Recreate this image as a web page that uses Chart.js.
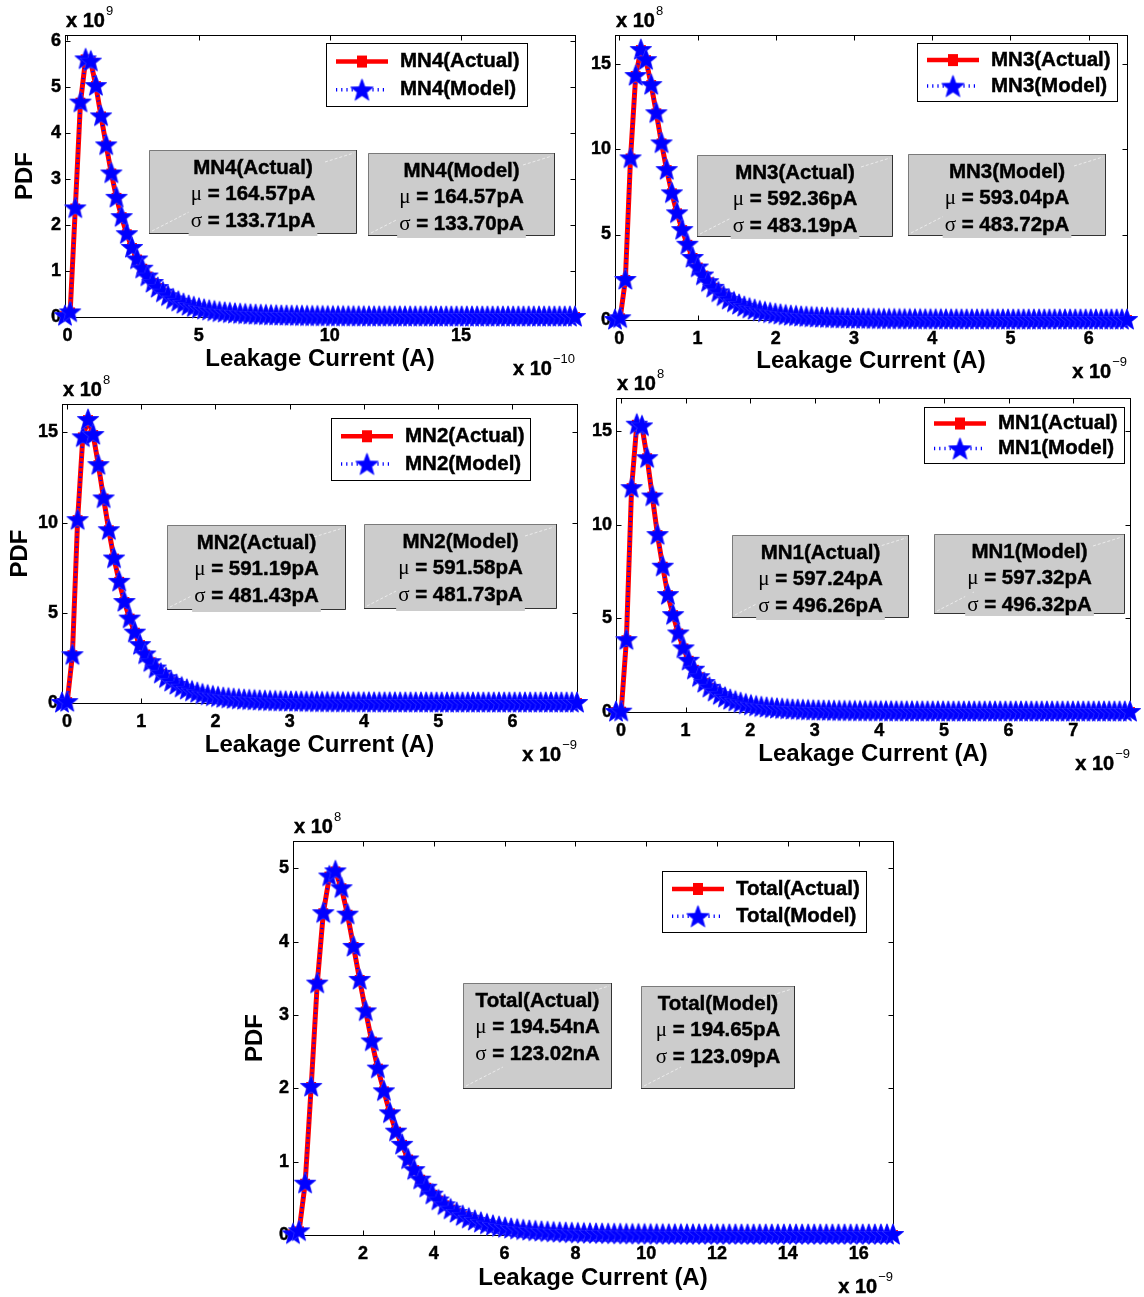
<!DOCTYPE html>
<html>
<head>
<meta charset="utf-8">
<script src="https://cdn.jsdelivr.net/npm/chart.js@4.4.1/dist/chart.umd.min.js"></script>
<style>
  html, body { margin: 0; padding: 0; background: #fff; }
  #fig { position: relative; width: 1144px; height: 1297px; overflow: hidden; background: #fff; }
  #fig canvas { position: absolute; }
</style>
</head>
<body>
<div id="fig"></div>
<script>
// ---------- data: kernel-density PDFs, 100 evenly spaced samples between the range ends ----------

// MN4: x in units of 1e-10 A, PDF in units of 1e9
const mn4Range = [-0.095, 19.35];
const mn4Pdf = [
  0.02, 0.10, 2.36, 4.66, 5.60, 5.55, 5.02, 4.36, 3.73, 3.12,
  2.59, 2.17, 1.80, 1.50, 1.25, 1.05, 0.88, 0.74, 0.63, 0.53,
  0.45, 0.38, 0.33, 0.28, 0.24, 0.21, 0.18, 0.155, 0.135, 0.117,
  0.100, 0.090, 0.078, 0.069, 0.061, 0.054, 0.047, 0.042, 0.037, 0.033,
  0.029, 0.026, 0.023, 0.021, 0.019, 0.017, 0.015, 0.013, 0.012, 0.011,
  0.010, 0.009, 0.008, 0.007, 0.007, 0.006, 0.006, 0.005, 0.005, 0.004,
  0.004, 0.004, 0.003, 0.003, 0.003, 0.003, 0.002, 0.002, 0.002, 0.002,
  0.002, 0.002, 0.001, 0.001, 0.001, 0.001, 0.001, 0.001, 0.001, 0.001,
  0.001, 0.001, 0.001, 0.001, 0, 0, 0, 0, 0, 0,
  0, 0, 0, 0, 0, 0, 0, 0, 0, 0
];
const mn4XTicks = [0, 5, 10, 15];
const mn4YTicks = [0, 1, 2, 3, 4, 5, 6];
const mn4YMax = 6.13;
const mn4Exp = ['9', '\u221210'];
const mn4Names = ['MN4(Actual)', 'MN4(Model)'];
const mn4Stats = [['MN4(Actual)', '164.57pA', '133.71pA'], ['MN4(Model)', '164.57pA', '133.70pA']];

// MN3: x in units of 1e-9 A, PDF in units of 1e8
const mn3Range = [-0.055, 6.49];
const mn3Pdf = [
  0.00, 0.10, 2.34, 9.45, 14.27, 15.79, 15.20, 13.74, 12.09, 10.33,
  8.77, 7.41, 6.24, 5.26, 4.40, 3.63, 3.07, 2.60, 2.21, 1.88,
  1.61, 1.38, 1.18, 1.02, 0.88, 0.76, 0.66, 0.58, 0.50, 0.44,
  0.385, 0.34, 0.30, 0.26, 0.23, 0.205, 0.18, 0.16, 0.145, 0.13,
  0.115, 0.103, 0.092, 0.083, 0.075, 0.067, 0.060, 0.054, 0.049, 0.044,
  0.040, 0.036, 0.032, 0.029, 0.026, 0.024, 0.021, 0.019, 0.017, 0.016,
  0.014, 0.013, 0.012, 0.011, 0.010, 0.009, 0.008, 0.007, 0.007, 0.006,
  0.006, 0.005, 0.005, 0.004, 0.004, 0.004, 0.003, 0.003, 0.003, 0.003,
  0.002, 0.002, 0.002, 0.002, 0.002, 0.001, 0.001, 0.001, 0.001, 0.001,
  0.001, 0.001, 0.001, 0.001, 0, 0, 0, 0, 0, 0
];
const mn3XTicks = [0, 1, 2, 3, 4, 5, 6];
const mn3YTicks = [0, 5, 10, 15];
const mn3YMax = 16.67;
const mn3Exp = ['8', '\u22129'];
const mn3Names = ['MN3(Actual)', 'MN3(Model)'];
const mn3Stats = [['MN3(Actual)', '592.36pA', '483.19pA'], ['MN3(Model)', '593.04pA', '483.72pA']];

// MN2: x in units of 1e-9 A, PDF in units of 1e8
const mn2Range = [-0.067, 6.87];
const mn2Pdf = [
  0.00, 0.05, 2.65, 10.14, 14.73, 15.69, 14.86, 13.19, 11.34, 9.58,
  8.01, 6.72, 5.60, 4.68, 3.90, 3.21, 2.69, 2.26, 1.91, 1.62,
  1.37, 1.17, 1.00, 0.85, 0.73, 0.63, 0.55, 0.47, 0.41, 0.36,
  0.31, 0.27, 0.24, 0.21, 0.185, 0.16, 0.145, 0.13, 0.115, 0.10,
  0.090, 0.080, 0.072, 0.064, 0.057, 0.051, 0.046, 0.041, 0.037, 0.033,
  0.030, 0.027, 0.024, 0.021, 0.019, 0.017, 0.015, 0.014, 0.012, 0.011,
  0.010, 0.009, 0.008, 0.007, 0.007, 0.006, 0.005, 0.005, 0.004, 0.004,
  0.004, 0.003, 0.003, 0.003, 0.002, 0.002, 0.002, 0.002, 0.002, 0.001,
  0.001, 0.001, 0.001, 0.001, 0.001, 0.001, 0, 0, 0, 0,
  0, 0, 0, 0, 0, 0, 0, 0, 0, 0
];
const mn2XTicks = [0, 1, 2, 3, 4, 5, 6];
const mn2YTicks = [0, 5, 10, 15];
const mn2YMax = 16.58;
const mn2Exp = ['8', '\u22129'];
const mn2Names = ['MN2(Actual)', 'MN2(Model)'];
const mn2Stats = [['MN2(Actual)', '591.19pA', '481.43pA'], ['MN2(Model)', '591.58pA', '481.73pA']];

// MN1: x in units of 1e-9 A, PDF in units of 1e8
const mn1Range = [-0.077, 7.88];
const mn1Pdf = [
  0.00, 0.02, 3.84, 11.97, 15.36, 15.27, 13.57, 11.52, 9.46, 7.77,
  6.25, 5.18, 4.20, 3.40, 2.74, 2.26, 1.86, 1.55, 1.29, 1.08,
  0.90, 0.76, 0.64, 0.55, 0.47, 0.40, 0.34, 0.29, 0.25, 0.22,
  0.19, 0.165, 0.144, 0.126, 0.11, 0.097, 0.085, 0.075, 0.066, 0.058,
  0.051, 0.045, 0.040, 0.035, 0.031, 0.028, 0.025, 0.022, 0.020, 0.018,
  0.016, 0.014, 0.012, 0.011, 0.010, 0.009, 0.008, 0.007, 0.006, 0.006,
  0.005, 0.005, 0.004, 0.004, 0.003, 0.003, 0.003, 0.002, 0.002, 0.002,
  0.002, 0.002, 0.001, 0.001, 0.001, 0.001, 0.001, 0.001, 0.001, 0.001,
  0.001, 0.001, 0.001, 0.001, 0, 0, 0, 0, 0, 0,
  0, 0, 0, 0, 0, 0, 0, 0, 0, 0
];
const mn1XTicks = [0, 1, 2, 3, 4, 5, 6, 7];
const mn1YTicks = [0, 5, 10, 15];
const mn1YMax = 16.79;
const mn1Exp = ['8', '\u22129'];
const mn1Names = ['MN1(Actual)', 'MN1(Model)'];
const mn1Stats = [['MN1(Actual)', '597.24pA', '496.26pA'], ['MN1(Model)', '597.32pA', '496.32pA']];

// Total: x in units of 1e-9 A, PDF in units of 1e8
const totalRange = [0.023, 16.97];
const totalPdf = [
  0.01, 0.05, 0.70, 2.02, 3.43, 4.39, 4.89, 4.96, 4.73, 4.37,
  3.93, 3.48, 3.05, 2.64, 2.27, 1.96, 1.66, 1.41, 1.23, 1.03,
  0.885, 0.755, 0.645, 0.55, 0.47, 0.405, 0.347, 0.30, 0.257, 0.222,
  0.192, 0.166, 0.143, 0.125, 0.108, 0.094, 0.082, 0.072, 0.063, 0.055,
  0.048, 0.042, 0.037, 0.033, 0.029, 0.026, 0.023, 0.020, 0.018, 0.016,
  0.014, 0.0125, 0.011, 0.0097, 0.0086, 0.0076, 0.0067, 0.006, 0.0053, 0.0047,
  0.0042, 0.0037, 0.0033, 0.0029, 0.0026, 0.0023, 0.002, 0.0018, 0.0016, 0.0014,
  0.0012, 0.0011, 0.001, 0.0009, 0.0008, 0.0007, 0.0006, 0.0005, 0.0005, 0.0004,
  0.0004, 0.0003, 0.0003, 0.0003, 0.0002, 0.0002, 0.0002, 0.0002, 0.0001, 0.0001,
  0.0001, 0.0001, 0.0001, 0.0001, 0, 0, 0, 0, 0, 0
];
const totalXTicks = [2, 4, 6, 8, 10, 12, 14, 16];
const totalYTicks = [0, 1, 2, 3, 4, 5];
const totalYMax = 5.375;
const totalExp = ['8', '\u22129'];
const totalNames = ['Total(Actual)', 'Total(Model)'];
const totalStats = [['Total(Actual)', '194.54nA', '123.02nA'], ['Total(Model)', '194.65pA', '123.09pA']];

const xAxisTitle = 'Leakage Current (A)';
const yAxisTitle = 'PDF';

// ---------- styling ----------
const FONT = '"Liberation Sans", Arial, Helvetica, sans-serif';
const SYM_FONT = '"Liberation Serif", "Times New Roman", serif';
const BOLD_TXT = 'bold 20.5px ' + FONT;
const SYM_TXT = '21px ' + SYM_FONT;
const BOX_GRAY = '#cccccc';
const TEXT_STROKE = 0.45;
Chart.defaults.font.family = FONT;
Chart.defaults.color = '#000';

// filled five-point star used as the model-series marker
function makeStar(R, ratio) {
  const c = document.createElement('canvas');
  const s = Math.ceil(2 * R + 4);
  c.width = s; c.height = s;
  const g = c.getContext('2d');
  const cx = s / 2, cy = s / 2;
  g.beginPath();
  for (let k = 0; k < 10; k++) {
    const r = k % 2 === 0 ? R : R * ratio;
    const ang = -Math.PI / 2 + k * Math.PI / 5;
    const px = cx + r * Math.cos(ang), py = cy + r * Math.sin(ang);
    if (k === 0) g.moveTo(px, py); else g.lineTo(px, py);
  }
  g.closePath();
  g.lineJoin = 'round';
  g.lineWidth = 1.2;
  g.strokeStyle = '#3c3cff';
  g.stroke();
  g.fillStyle = '#0000ff';
  g.fill();
  return c;
}
const starMarker = makeStar(11, 0.42);
const legendStar = makeStar(11.5, 0.42);

// axes box with inward ticks on all four sides
const framePlugin = {
  id: 'frameBox',
  beforeDatasetsDraw(chart) {
    const { ctx, chartArea: a } = chart;
    const xs = chart.scales.x, ys = chart.scales.y;
    const L = 5;
    ctx.save();
    ctx.strokeStyle = '#000';
    ctx.lineWidth = 1;
    const l = Math.round(a.left) + 0.5, t = Math.round(a.top) + 0.5;
    const r = Math.round(a.right) + 0.5, b = Math.round(a.bottom) + 0.5;
    ctx.strokeRect(l, t, r - l, b - t);
    ctx.beginPath();
    xs.ticks.forEach(tk => {
      const px = Math.round(xs.getPixelForValue(tk.value)) + 0.5;
      ctx.moveTo(px, b); ctx.lineTo(px, b - L);
      ctx.moveTo(px, t); ctx.lineTo(px, t + L);
    });
    ys.ticks.forEach(tk => {
      const py = Math.round(ys.getPixelForValue(tk.value)) + 0.5;
      ctx.moveTo(l, py); ctx.lineTo(l + L, py);
      ctx.moveTo(r, py); ctx.lineTo(r - L, py);
    });
    ctx.stroke();
    ctx.restore();
  }
};

function heavyText(ctx, t, x, y) {
  ctx.fillText(t, x, y);
  ctx.lineWidth = TEXT_STROKE;
  ctx.strokeStyle = ctx.fillStyle;
  ctx.strokeText(t, x, y);
}

function drawStats(ctx, b, s) {
  ctx.fillStyle = BOX_GRAY;
  ctx.fillRect(b.x, b.y, b.w, b.h);
  ctx.lineWidth = 1;
  // lighter top/left edges, darker right/bottom edges
  ctx.strokeStyle = '#7a7a7a';
  ctx.beginPath();
  ctx.moveTo(b.x + 0.5, b.y + b.h); ctx.lineTo(b.x + 0.5, b.y + 0.5); ctx.lineTo(b.x + b.w, b.y + 0.5);
  ctx.stroke();
  ctx.strokeStyle = '#333';
  ctx.beginPath();
  ctx.moveTo(b.x + b.w - 0.5, b.y); ctx.lineTo(b.x + b.w - 0.5, b.y + b.h - 0.5); ctx.lineTo(b.x, b.y + b.h - 0.5);
  ctx.stroke();
  // faint diagonal streaks at two corners
  ctx.save();
  ctx.strokeStyle = 'rgba(255,255,255,0.75)';
  ctx.lineWidth = 0.8;
  ctx.setLineDash([3, 2]);
  ctx.beginPath();
  ctx.moveTo(b.x + 3, b.y + b.h - 3); ctx.lineTo(b.x + 40, b.y + b.h - 22);
  ctx.moveTo(b.x + b.w - 32, b.y + 12); ctx.lineTo(b.x + b.w - 3, b.y + 3);
  ctx.stroke();
  ctx.restore();

  const cx = b.x + b.w / 2;
  const rows = [
    [[s[0], BOLD_TXT]],
    [['\u03bc', SYM_TXT], [' = ' + s[1], BOLD_TXT]],
    [['\u03c3', SYM_TXT], [' = ' + s[2], BOLD_TXT]]
  ];
  const offs = [18, 44.5, 71];
  ctx.textBaseline = 'middle';
  ctx.textAlign = 'left';
  rows.forEach((parts, r) => {
    const y = b.y + offs[r];
    let w = 0;
    parts.forEach(([t, f]) => { ctx.font = f; w += ctx.measureText(t).width; });
    let x = cx - w / 2;
    if (b.cover && r === 2) {
      ctx.fillStyle = BOX_GRAY;
      ctx.fillRect(x - 2, y - 12, w + 4, b.y + b.h + 2 - (y - 12));
    }
    ctx.fillStyle = '#000';
    parts.forEach(([t, f]) => {
      ctx.font = f;
      if (f === BOLD_TXT) heavyText(ctx, t, x, y); else ctx.fillText(t, x, y);
      x += ctx.measureText(t).width;
    });
  });
}

function drawLegend(ctx, L, ds) {
  ctx.fillStyle = '#fff';
  ctx.fillRect(L.x, L.y, L.w, L.h);
  ctx.strokeStyle = '#000';
  ctx.lineWidth = 1;
  ctx.strokeRect(L.x + 0.5, L.y + 0.5, L.w - 1, L.h - 1);
  const y1 = L.y + 0.29 * L.h, y2 = L.y + 0.73 * L.h;
  const x0 = L.x + 10, x1 = L.x + 62, xc = (x0 + x1) / 2;
  // actual: thick red line with square
  ctx.strokeStyle = ds[0].borderColor;
  ctx.lineWidth = 4.5;
  ctx.beginPath(); ctx.moveTo(x0, y1); ctx.lineTo(x1, y1); ctx.stroke();
  ctx.fillStyle = ds[0].borderColor;
  ctx.fillRect(xc - 5, y1 - 6, 10, 12);
  // model: dotted blue line with star
  ctx.strokeStyle = ds[1].borderColor;
  ctx.lineWidth = 3.5;
  ctx.setLineDash([1.2, 4]);
  ctx.beginPath(); ctx.moveTo(x0, y2); ctx.lineTo(x1, y2); ctx.stroke();
  ctx.setLineDash([]);
  ctx.drawImage(legendStar, xc - legendStar.width / 2, y2 - legendStar.height / 2 + 1);
  ctx.fillStyle = '#000';
  ctx.font = BOLD_TXT;
  ctx.textBaseline = 'middle';
  ctx.textAlign = 'left';
  heavyText(ctx, ds[0].label, L.x + 74, y1);
  heavyText(ctx, ds[1].label, L.x + 74, y2);
}

function drawExponent(ctx, x, y, sup, alignRight) {
  ctx.textBaseline = 'middle';
  ctx.textAlign = 'left';
  ctx.font = 'bold 20px ' + FONT;
  const mainW = ctx.measureText('x 10').width;
  ctx.font = '13px ' + FONT;
  const supW = ctx.measureText(sup).width;
  const x0 = alignRight ? x - mainW - supW - 1 : x;
  ctx.fillStyle = '#000';
  ctx.font = 'bold 20px ' + FONT;
  heavyText(ctx, 'x 10', x0, y);
  ctx.font = '13px ' + FONT;
  ctx.fillText(sup, x0 + mainW + 1, y - 10);
}

function overlayPlugin(p) {
  return {
    id: 'overlay',
    afterDraw(chart) {
      const ctx = chart.ctx;
      const ox = p.box.left, oy = p.box.top;
      const a = chart.chartArea;
      ctx.save();
      ctx.translate(-ox, -oy);
      p.statBoxes.forEach((b, k) => drawStats(ctx, b, p.stats[k]));
      drawLegend(ctx, p.legend, chart.data.datasets);
      drawExponent(ctx, a.left + ox + 1, a.top + oy - 14, p.exp[0], false);
      drawExponent(ctx, a.right + ox, a.bottom + oy + 52, p.exp[1], true);
      ctx.restore();
    }
  };
}

// ---------- panel layout (page pixels) ----------
const panels = [
  { pdf: mn4Pdf, range: mn4Range, xTicks: mn4XTicks, yTicks: mn4YTicks, yMax: mn4YMax, exp: mn4Exp, names: mn4Names, stats: mn4Stats,
    box: { left: 0, top: 0, w: 600, h: 380 }, area: { l: 65, t: 35, r: 575, b: 317 },
    yTitlePad: 10.6, xTitlePad: 6,
    legend: { x: 326, y: 43, w: 202, h: 64 },
    statBoxes: [{ x: 149, y: 150, w: 208, h: 84, cover: true }, { x: 368, y: 153, w: 187, h: 83, cover: true }] },
  { pdf: mn3Pdf, range: mn3Range, xTicks: mn3XTicks, yTicks: mn3YTicks, yMax: mn3YMax, exp: mn3Exp, names: mn3Names, stats: mn3Stats,
    box: { left: 575, top: 0, w: 569, h: 385 }, area: { l: 615, t: 35, r: 1127, b: 320 },
    yTitlePad: null, xTitlePad: 9.6,
    legend: { x: 917, y: 43, w: 201, h: 59 },
    statBoxes: [{ x: 697, y: 155, w: 196, h: 82, cover: true }, { x: 908, y: 154, w: 198, h: 82, cover: true }] },
  { pdf: mn2Pdf, range: mn2Range, xTicks: mn2XTicks, yTicks: mn2YTicks, yMax: mn2YMax, exp: mn2Exp, names: mn2Names, stats: mn2Stats,
    box: { left: 0, top: 370, w: 600, h: 400 }, area: { l: 62, t: 404, r: 577, b: 703 },
    yTitlePad: 5.6, xTitlePad: 10.6,
    legend: { x: 331, y: 418, w: 200, h: 63 },
    statBoxes: [{ x: 167, y: 525, w: 179, h: 85, cover: true }, { x: 364, y: 524, w: 193, h: 85, cover: true }] },
  { pdf: mn1Pdf, range: mn1Range, xTicks: mn1XTicks, yTicks: mn1YTicks, yMax: mn1YMax, exp: mn1Exp, names: mn1Names, stats: mn1Stats,
    box: { left: 575, top: 365, w: 569, h: 415 }, area: { l: 616, t: 398, r: 1133, b: 712 },
    yTitlePad: null, xTitlePad: 11.6,
    legend: { x: 924, y: 407, w: 201, h: 57 },
    statBoxes: [{ x: 732, y: 535, w: 177, h: 83, cover: true }, { x: 934, y: 534, w: 191, h: 80, cover: true }] },
  { pdf: totalPdf, range: totalRange, xTicks: totalXTicks, yTicks: totalYTicks, yMax: totalYMax, exp: totalExp, names: totalNames, stats: totalStats,
    box: { left: 230, top: 800, w: 680, h: 497 }, area: { l: 293, t: 841, r: 893, b: 1235 },
    yTitlePad: 10.6, xTitlePad: 4.6,
    legend: { x: 662, y: 871, w: 205, h: 62 },
    statBoxes: [{ x: 463, y: 983, w: 149, h: 106, cover: false }, { x: 641, y: 986, w: 154, h: 103, cover: false }] }
];

const fig = document.getElementById('fig');

function samplePoints(pdf, range) {
  const step = (range[1] - range[0]) / (pdf.length - 1);
  return pdf.map((v, i) => ({ x: range[0] + i * step, y: v }));
}

function buildPanel(p) {
  const cv = document.createElement('canvas');
  cv.width = p.box.w; cv.height = p.box.h;
  cv.style.left = p.box.left + 'px';
  cv.style.top = p.box.top + 'px';
  cv.style.width = p.box.w + 'px';
  cv.style.height = p.box.h + 'px';
  fig.appendChild(cv);

  const yAxisW = p.area.l - p.box.left;
  const xAxisH = p.box.top + p.box.h - p.area.b;
  const tickFont = { size: 18, weight: 'bold', family: FONT };
  const titleFont = { size: 24, weight: 'bold', family: FONT };

  new Chart(cv, {
    type: 'line',
    data: {
      datasets: [
        { label: p.names[0], data: samplePoints(p.pdf, p.range), order: 2, clip: false,
          borderColor: '#ff0000', backgroundColor: '#ff0000', borderWidth: 5, borderJoinStyle: 'round',
          pointStyle: 'rect', pointRadius: 7, pointBorderWidth: 0, pointBackgroundColor: '#ff0000', tension: 0 },
        { label: p.names[1], data: samplePoints(p.pdf, p.range), order: 1, clip: false,
          borderColor: '#0000ff', backgroundColor: '#0000ff', borderWidth: 3, borderDash: [1.2, 3.8],
          pointStyle: starMarker, pointRadius: 11, tension: 0 }
      ]
    },
    options: {
      responsive: false,
      animation: false,
      devicePixelRatio: 1,
      events: [],
      layout: { padding: { top: p.area.t - p.box.top, right: p.box.left + p.box.w - p.area.r, left: 0, bottom: 0 } },
      plugins: { legend: { display: false }, tooltip: { enabled: false } },
      scales: {
        x: {
          type: 'linear', min: p.range[0], max: p.range[1], bounds: 'data',
          afterBuildTicks: s => { s.ticks = p.xTicks.map(v => ({ value: v })); },
          afterFit: s => { s.height = xAxisH; },
          grid: { display: false, drawTicks: false },
          border: { display: false },
          ticks: { font: tickFont, color: '#000', padding: 8, maxRotation: 0, autoSkip: false,
                   textStrokeColor: '#000', textStrokeWidth: TEXT_STROKE },
          title: { display: true, text: xAxisTitle, font: titleFont, color: '#000', padding: { top: 0, bottom: p.xTitlePad } }
        },
        y: {
          type: 'linear', min: 0, max: p.yMax, bounds: 'data',
          afterBuildTicks: s => { s.ticks = p.yTicks.map(v => ({ value: v })); },
          afterFit: s => { s.width = yAxisW; },
          grid: { display: false, drawTicks: false },
          border: { display: false },
          ticks: { font: tickFont, color: '#000', padding: 4, autoSkip: false,
                   textStrokeColor: '#000', textStrokeWidth: TEXT_STROKE },
          title: { display: p.yTitlePad !== null, text: yAxisTitle, font: titleFont, color: '#000',
                   padding: { top: p.yTitlePad || 0, bottom: 0 } }
        }
      }
    },
    plugins: [framePlugin, overlayPlugin(p)]
  });
}

panels.forEach(buildPanel);
</script>
</body>
</html>
